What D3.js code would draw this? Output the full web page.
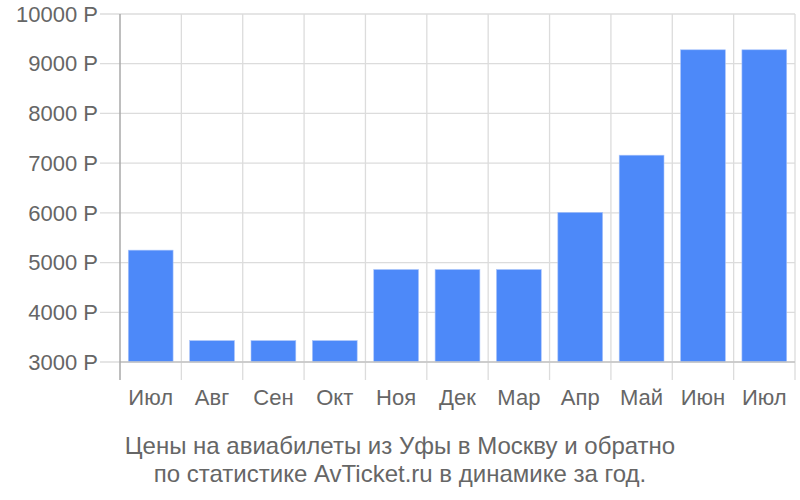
<!DOCTYPE html>
<html><head><meta charset="utf-8">
<script src="https://cdnjs.cloudflare.com/ajax/libs/d3/7.8.5/d3.min.js"></script>
<style>body{margin:0;background:#fff;} text{font-family:"Liberation Sans",Arial,sans-serif;}</style>
</head><body>
<svg id="c" width="800" height="500"></svg>
<script>
const categories = ["Июл","Авг","Сен","Окт","Ноя","Дек","Мар","Апр","Май","Июн","Июл"];
const prices = [5250, 3430, 3430, 3430, 4860, 4860, 4860, 6010, 7160, 9280, 9280];
const yTicks = [3000, 4000, 5000, 6000, 7000, 8000, 9000, 10000];
const titleLines = ["Цены на авиабилеты из Уфы в Москву и обратно", "по статистике AvTicket.ru в динамике за год."];

(function () {
const svg = d3.select("#c");
const pLeft = 120, pRight = 795, pTop = 14, pBottom = 362;
const x = d3.scaleBand().domain(d3.range(categories.length)).range([pLeft, pRight]).paddingInner(0.27).paddingOuter(0.135);
const xg = d3.scaleLinear().domain([0, categories.length]).range([pLeft, pRight]);
const y = d3.scaleLinear().domain([3000, 10000]).range([pBottom, pTop]);

// horizontal grid
svg.append("g").selectAll("line").data(yTicks).join("line")
  .attr("x1", 100).attr("x2", pRight).attr("y1", d => y(d)).attr("y2", d => y(d))
  .attr("stroke", "#dcdcdc").attr("stroke-width", 1.3);
// vertical grid
svg.append("g").selectAll("line").data(d3.range(1, categories.length + 1)).join("line")
  .attr("x1", d => xg(d)).attr("x2", d => xg(d)).attr("y1", pTop).attr("y2", 380)
  .attr("stroke", "#dcdcdc").attr("stroke-width", 1.3);

// bars
svg.append("g").selectAll("rect").data(prices).join("rect")
  .attr("x", (d, i) => x(i)).attr("width", x.bandwidth())
  .attr("y", d => y(d)).attr("height", d => y(3000) - y(d))
  .attr("fill", "#4d89f9").attr("stroke", "#a9c4fb").attr("stroke-width", 0.6);

// baseline and y axis
svg.append("line").attr("x1", pLeft).attr("x2", pRight).attr("y1", pBottom).attr("y2", pBottom)
  .attr("stroke", "#c4c4c4").attr("stroke-width", 1.3);
svg.append("line").attr("x1", pLeft).attr("x2", pLeft).attr("y1", pTop).attr("y2", 380)
  .attr("stroke", "#a8a8a8").attr("stroke-width", 1.5);

// y labels
svg.append("g").selectAll("text").data(yTicks).join("text")
  .attr("x", 98).attr("y", d => y(d)).attr("dy", "0.35em").attr("text-anchor", "end")
  .attr("font-size", 22).attr("fill", "#666").text(d => d + " Р");

// x labels
svg.append("g").selectAll("text").data(categories).join("text")
  .attr("x", (d, i) => x(i) + x.bandwidth() / 2).attr("y", 397).attr("dy", "0.35em")
  .attr("text-anchor", "middle").attr("font-size", 22).attr("fill", "#666").text(d => d);

// title
svg.append("g").selectAll("text").data(titleLines).join("text")
  .attr("x", 400).attr("y", (d, i) => 446 + i * 28).attr("dy", "0.35em")
  .attr("text-anchor", "middle").attr("font-size", 24).attr("fill", "#666").text(d => d);
})();
</script>
</body></html>
